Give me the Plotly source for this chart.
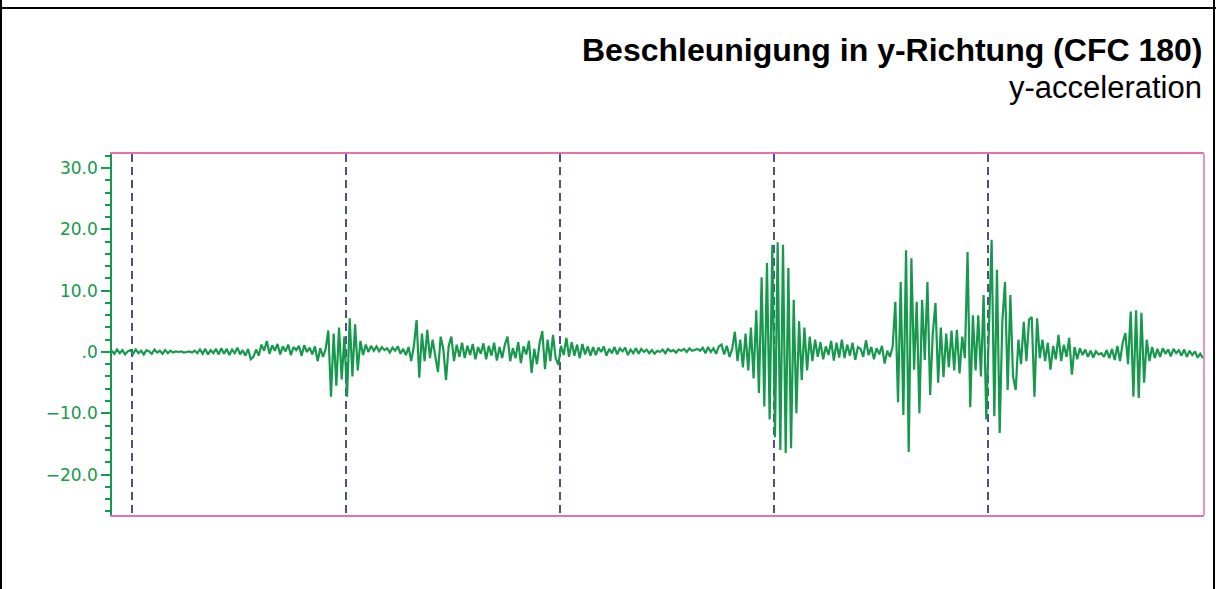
import plotly.graph_objects as go

# ---- data ----
title_text = "Beschleunigung in y-Richtung (CFC 180)"
subtitle_text = "y-acceleration"

sample_start = -1.9      # ms
sample_step = 0.25       # ms

accel_y = (
    [0.2, -0.3, 0.4, -0.2, 0.3, -0.4, 0.1, 0.3, -0.3, 0.4, -0.2, 0.2, -0.4, 0.3, 0.1, -0.3, 0.4, -0.1, 0.2, -0.3]
    + [0.3, -0.2, 0.2, -0.1, 0.1, 0.0, 0.1, -0.1, 0.0, 0.1, -0.1, 0.2, -0.2, 0.4, -0.3, 0.5, -0.4, 0.3, -0.2, 0.5]
    + [-0.4, 0.6, -0.3, 0.5, -0.5, 0.4, -0.2, 0.7, -0.4, 0.3, -0.6, 0.5, -1.2, -0.8, 0.4, -0.6, 1.2, 0.2, 1.8, -0.3]
    + [1.1, 0.2, 1.3, -0.4, 0.9, 0.1, 1.2, -0.5, 0.8, 0.3, 1.0, -0.6, 1.1, 0.0, 0.7, -0.4, 0.9, -1.5, 0.6, -0.8]
    + [0.5, 3.5, -7.3, 3.0, -5.5, 4.0, -4.5, 2.5, -7.3, 5.5, -4.0, 4.5, -3.0, 1.8, -0.5, 1.2, 0.0, 1.0, 0.2, 0.9]
    + [0.1, 0.8, 0.3, 0.6, -0.1, 0.7, 0.2, 0.9, -0.3, 0.5, -0.5, 0.8, -1.5, 1.0, 5.2, -4.2, 3.0, -1.5, 3.6, -1.0]
    + [2.0, -1.0, -3.3, 2.5, 0.5, -4.6, 1.0, 2.5, -1.5, 1.2, -0.8, 1.5, -1.0, 1.0, -0.5, 1.3, -1.2, 0.8, -0.3, 1.4]
    + [-1.2, 1.0, -0.6, 1.5, -1.4, 0.8, -1.0, 1.2, 2.5, -1.5, 0.6, -1.0, 1.6, -1.8, 0.9, -0.4, 1.8, -3.4, 0.5, -2.0]
    + [1.5, 3.4, -2.8, 2.0, -1.5, 2.8, -1.0, -2.1, 1.0, -0.5, 2.3, -0.8, 1.6, -0.6, 1.2, -1.0, 1.3, -0.4, 0.9, -0.6]
    + [0.8, -0.5, 0.7, 0.0, 0.9, -0.6, 0.5, -0.2, 0.8, -0.4, 0.6, 0.1, 0.7, -0.5, 0.4, -0.2, 0.6, -0.3, 0.5, 0.0]
    + [0.4, -0.2, 0.3, -0.3, 0.2, 0.0, 0.4, -0.2, 0.5, 0.1, 0.3, -0.1, 0.4, 0.2, 0.5, 0.0, 0.6, 0.2, 0.3, 0.5]
    + [0.2, 0.7, -0.2, 0.8, 0.0, 0.6, -0.3, 0.9, 1.2, -0.4, 1.0, -0.8, 0.5, 3.3, -1.5, 2.0, -2.5, 3.0, -3.0, 4.0]
    + [-4.3, 6.8, -6.7, 12.2, -8.9, 14.5, -11.0, 17.5, -13.9, 17.9, -16.0, 17.5, -16.5, 13.7, -15.7, 8.5, -10.0, 5.0, -4.6, 4.0]
    + [-3.0, 2.5, -1.5, 2.0, -0.8, 1.6, -1.2, 0.9, -0.5, 1.8, -1.4, 1.5, -0.9, 2.0, -1.0, 1.2, -0.6, 1.5, -1.3, 0.8]
    + [0.5, -0.8, 1.9, -0.5, 0.8, -1.2, 0.6, -0.4, 1.0, -1.9, 0.2, -0.8, 0.9, 8.2, -8.2, 11.4, -10.3, 16.6, -16.3, 15.3]
    + [-2.9, 8.2, -10.0, 8.5, -1.3, 11.4, -7.0, 3.0, 8.0, -5.0, 4.0, -4.1, 3.0, -2.5, 3.5, -3.0, 3.6, -3.5, 2.5, -1.0]
    + [16.3, -9.0, 6.0, -3.0, 6.0, -4.0, 9.3, -11.0, 4.0, 18.3, -10.5, 13.4, -13.2, 5.0, 11.4, -6.2, 9.3, -4.0, -6.2, 2.0]
    + [-2.0, 4.9, -1.5, 5.3, 5.7, -7.3, 5.5, -1.0, 2.0, -1.5, 1.5, -2.9, 1.0, -1.2, 2.8, -1.5, 1.2, -0.8, 2.3, -3.7]
    + [0.8, -1.2, 0.6, -0.5, 0.4, -0.8, 0.2, -0.9, 0.1, -0.4, -0.2, -0.8, 0.3, -1.0, 0.5, -1.3, 1.0, -1.5, 1.5, 3.1]
    + [-2.0, 6.6, -7.3, 6.8, -7.5, 6.4, -5.0, 2.0, -1.5, 0.8, -1.0, 0.5, -0.8, 0.6, -0.3, 0.4, -0.7, 0.5, -0.2, 0.3]
    + [-0.6, 0.4, -0.8, 0.2, -0.5, 0.1, -0.9, -0.3, -1.0]
)
time_ms = [sample_start + sample_step * i for i in range(len(accel_y))]

x_grid_vals = [0, 20, 40, 60, 80]
y_tick_vals = [30, 20, 10, 0, -10, -20]
y_tick_text = ["30.0", "20.0", "10.0", ".0", "\u221210.0", "\u221220.0"]
x_range = [-1.87, 100.2]
y_range = [-26.6, 32.3]

# ---- styles ----
GREEN = "#16994c"
PINK = "#e56fb2"
DASH = "#4d4d90"

fig = go.Figure()
fig.add_trace(go.Scatter(
    x=time_ms, y=accel_y, mode="lines",
    line=dict(color=GREEN, width=2.2),
    hoverinfo="skip", showlegend=False,
))

fig.update_layout(
    width=1216, height=589,
    margin=dict(l=112, r=12, t=154, b=74),
    paper_bgcolor="white", plot_bgcolor="white",
    showlegend=False,
)

fig.update_xaxes(
    range=x_range, tickmode="array", tickvals=x_grid_vals,
    showticklabels=False, ticks="",
    showgrid=True, gridcolor=DASH, gridwidth=1.5, griddash="8px,5px",
    zeroline=False,
    showline=True, linecolor=PINK, linewidth=1.5, mirror=True,
)
fig.update_yaxes(
    range=y_range, tickmode="array", tickvals=y_tick_vals, ticktext=y_tick_text,
    ticks="outside", ticklen=9, tickwidth=1.5, tickcolor=GREEN,
    tickfont=dict(family="DejaVu Sans", size=17, color=GREEN),
    minor=dict(tickmode="linear", tick0=0, dtick=2, ticks="outside",
               ticklen=5, tickwidth=1.5, tickcolor=GREEN, showgrid=False),
    showgrid=False, zeroline=False,
    showline=True, linecolor=GREEN, linewidth=1.5,
)

# right frame edge (pink)
fig.add_shape(type="line", xref="paper", yref="paper", x0=1, x1=1, y0=0, y1=1,
              line=dict(color=PINK, width=1.5))

# page border (black)
def px_x(p):
    return (p - 112) / 1092.0

def px_y(p):
    return (515 - p) / 361.0

fig.add_shape(type="line", xref="paper", yref="paper",
              x0=px_x(0), x1=px_x(1216), y0=px_y(8), y1=px_y(8),
              line=dict(color="black", width=2))
fig.add_shape(type="line", xref="paper", yref="paper",
              x0=px_x(1), x1=px_x(1), y0=px_y(0), y1=px_y(589),
              line=dict(color="black", width=2))
fig.add_shape(type="line", xref="paper", yref="paper",
              x0=px_x(1214), x1=px_x(1214), y0=px_y(0), y1=px_y(589),
              line=dict(color="black", width=2))

fig.add_annotation(text="<b>" + title_text + "</b>", xref="paper", yref="paper",
                   x=px_x(1204), y=px_y(50), xanchor="right", yanchor="middle",
                   showarrow=False,
                   font=dict(family="Liberation Sans, Arial", size=32, color="black"))
fig.add_annotation(text=subtitle_text, xref="paper", yref="paper",
                   x=px_x(1204), y=px_y(88), xanchor="right", yanchor="middle",
                   showarrow=False,
                   font=dict(family="Liberation Sans, Arial", size=31, color="black"))

fig.write_html("out.html", config={"displayModeBar": False},
               post_script="document.body.style.margin='0px';document.body.style.overflow='hidden';")
